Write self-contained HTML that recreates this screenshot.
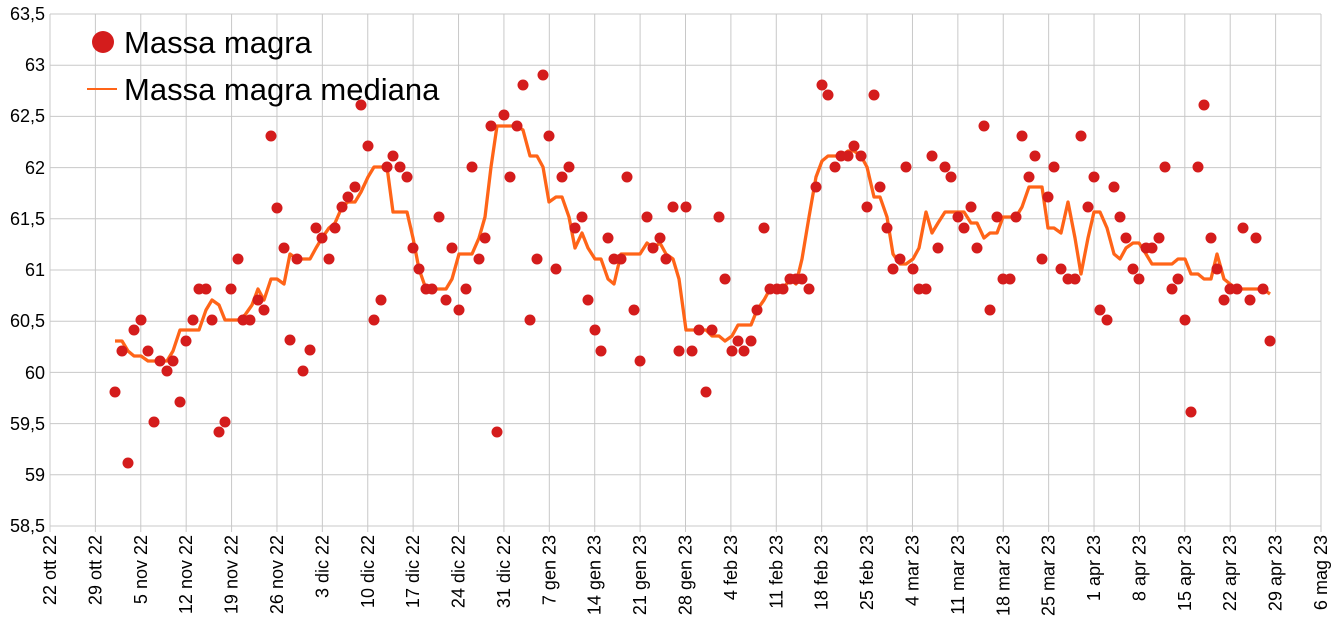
<!DOCTYPE html>
<html><head><meta charset="utf-8"><style>
html,body{margin:0;padding:0;background:#fff;}
svg{display:block;font-family:"Liberation Sans",sans-serif;}
</style></head><body>
<svg id="c" width="1340" height="625" xmlns="http://www.w3.org/2000/svg">
<g id="grid" stroke="#c8c8c8" stroke-width="1"></g>
<g id="ylab" font-size="18" fill="#000" text-anchor="end">
<text x="45" y="20">63,5</text><text x="45" y="71">63</text><text x="45" y="122">62,5</text><text x="45" y="174">62</text><text x="45" y="225">61,5</text><text x="45" y="276">61</text><text x="45" y="327">60,5</text><text x="45" y="379">60</text><text x="45" y="430">59,5</text><text x="45" y="481">59</text><text x="45" y="532">58,5</text>
</g>
<g id="xlab" font-size="18" fill="#000"></g>
<polyline id="med" fill="none" stroke="#ff6418" stroke-width="3.3" stroke-linejoin="round"></polyline>
<g id="dots" fill="#d41c1c"></g>
<circle cx="103" cy="42" r="11" fill="#d41c1c"/>
<text x="124" y="53" font-size="31">Massa magra</text>
<line x1="87" y1="89" x2="117" y2="89" stroke="#ff6418" stroke-width="2"/>
<text x="124" y="100" font-size="31">Massa magra mediana</text>
</svg>
<script>
var ns="http://www.w3.org/2000/svg";
function el(t,a,p){var e=document.createElementNS(ns,t);for(var k in a)e.setAttribute(k,a[k]);document.getElementById(p).appendChild(e);return e;}
var L=50,R=1321,T=14,B=526;
for(var i=0;i<=10;i++){var y=T+i*(B-T)/10;el('line',{x1:L,y1:y,x2:R,y2:y},'grid');}
var labs=["22 ott 22","29 ott 22","5 nov 22","12 nov 22","19 nov 22","26 nov 22","3 dic 22","10 dic 22","17 dic 22","24 dic 22","31 dic 22","7 gen 23","14 gen 23","21 gen 23","28 gen 23","4 feb 23","11 feb 23","18 feb 23","25 feb 23","4 mar 23","11 mar 23","18 mar 23","25 mar 23","1 apr 23","8 apr 23","15 apr 23","22 apr 23","29 apr 23","6 mag 23"];
for(var i=0;i<labs.length;i++){var x=L+i*(R-L)/28;el('line',{x1:x,y1:T,x2:x,y2:B+6},'grid');
var t=el('text',{x:0,y:0,'text-anchor':'end',transform:'translate('+(x+6)+','+(B+9)+') rotate(-90)'},'xlab');t.textContent=labs[i];}
var D=[[115,392],[122,351],[128,463],[134,330],[141,320],[148,351],[154,422],[160,361],[167,371],[173,361],[180,402],[186,341],[193,320],[199,289],[206,289],[212,320],[219,432],[225,422],[231,289],[238,259],[243,320],[250,320],[258,300],[264,310],[271,136],[277,208],[284,248],[290,340],[297,259],[303,371],[310,350],[316,228],[322,238],[329,259],[335,228],[342,207],[348,197],[355,187],[361,105],[368,146],[374,320],[381,300],[387,167],[393,156],[400,167],[407,177],[413,248],[419,269],[426,289],[432,289],[439,217],[446,300],[452,248],[459,310],[466,289],[472,167],[479,259],[485,238],[491,126],[497,432],[504,115],[510,177],[517,126],[523,85],[530,320],[537,259],[543,75],[549,136],[556,269],[562,177],[569,167],[575,228],[582,217],[588,300],[595,330],[601,351],[608,238],[614,259],[621,259],[627,177],[634,310],[640,361],[647,217],[653,248],[660,238],[666,259],[673,207],[679,351],[686,207],[692,351],[699,330],[706,392],[712,330],[719,217],[725,279],[732,351],[738,341],[744,351],[751,341],[757,310],[764,228],[770,289],[777,289],[783,289],[790,279],[796,279],[802,279],[809,289],[816,187],[822,85],[828,95],[835,167],[841,156],[848,156],[854,146],[861,156],[867,207],[874,95],[880,187],[887,228],[893,269],[900,259],[906,167],[913,269],[919,289],[926,289],[932,156],[938,248],[945,167],[951,177],[958,217],[964,228],[971,207],[977,248],[984,126],[990,310],[997,217],[1003,279],[1010,279],[1016,217],[1022,136],[1029,177],[1035,156],[1042,259],[1048,197],[1054,167],[1061,269],[1068,279],[1075,279],[1081,136],[1088,207],[1094,177],[1100,310],[1107,320],[1114,187],[1120,217],[1126,238],[1133,269],[1139,279],[1146,248],[1152,248],[1159,238],[1165,167],[1172,289],[1178,279],[1185,320],[1191,412],[1198,167],[1204,105],[1211,238],[1217,269],[1224,300],[1230,289],[1237,289],[1243,228],[1250,300],[1256,238],[1263,289],[1270,341]];
D.forEach(function(p){el('circle',{cx:p[0],cy:p[1],r:5.5},'dots');});
var M=[[115,341],[122,341],[128,351],[134,356],[141,356],[148,361],[154,361],[160,361],[167,361],[173,351],[180,330],[186,330],[193,330],[199,330],[206,310],[212,300],[219,305],[225,320],[231,320],[238,320],[245,315],[252,305],[258,289],[264,300],[271,279],[277,279],[284,284],[290,254],[297,259],[303,259],[310,259],[316,248],[322,238],[329,228],[335,223],[342,207],[348,202],[355,202],[361,192],[368,177],[374,167],[381,167],[387,167],[393,212],[400,212],[407,212],[413,238],[419,269],[426,289],[432,289],[439,289],[446,289],[452,279],[459,254],[466,254],[472,254],[479,238],[485,217],[491,167],[497,126],[504,126],[510,126],[517,126],[523,130],[530,156],[537,156],[543,167],[549,202],[556,197],[562,197],[569,217],[575,248],[582,233],[588,248],[595,259],[601,259],[608,279],[614,284],[621,254],[627,254],[634,254],[640,254],[647,243],[653,248],[660,243],[666,254],[673,259],[679,279],[686,330],[692,330],[699,330],[706,330],[712,336],[719,336],[725,341],[732,336],[738,325],[744,325],[751,325],[757,310],[764,300],[770,289],[777,289],[783,289],[790,279],[796,284],[802,259],[809,217],[816,177],[822,161],[828,156],[835,156],[841,156],[848,151],[854,151],[861,156],[867,167],[874,197],[880,197],[887,217],[893,254],[900,264],[906,264],[913,259],[919,248],[926,212],[932,233],[938,223],[945,212],[951,212],[958,212],[964,212],[971,223],[977,223],[984,238],[990,233],[997,233],[1003,217],[1010,217],[1016,217],[1022,207],[1029,187],[1035,187],[1042,187],[1048,228],[1054,228],[1061,233],[1068,202],[1075,238],[1081,274],[1088,238],[1094,212],[1100,212],[1107,228],[1114,254],[1120,259],[1126,248],[1133,243],[1139,243],[1146,254],[1152,264],[1159,264],[1165,264],[1172,264],[1178,259],[1185,259],[1191,274],[1198,274],[1204,279],[1211,279],[1217,254],[1224,279],[1230,284],[1237,289],[1243,289],[1250,289],[1256,289],[1263,289],[1270,294]];
document.getElementById('med').setAttribute('points',M.map(function(p){return p.join(',');}).join(' '));
</script>
</body></html>
